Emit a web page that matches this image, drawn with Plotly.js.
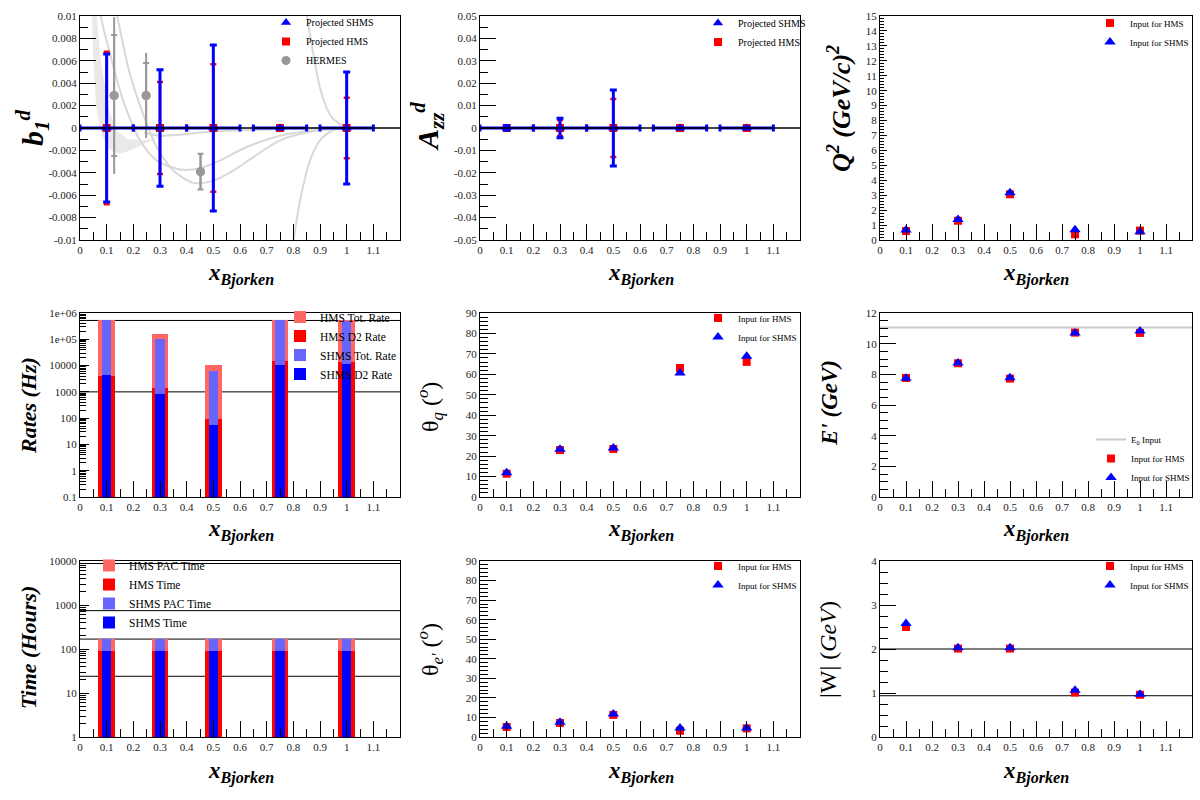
<!DOCTYPE html>
<html><head><meta charset="utf-8">
<script src="https://cdn.plot.ly/plotly-3.0.1.min.js"></script>
<style>html,body{margin:0;padding:0;background:#fff}#chart{width:1200px;height:800px}</style>
</head><body><div id="chart"></div>
<script>
// ---------------- data ----------------
const xPoints = [0.1, 0.3, 0.5, 0.75, 1.0];
const xHalfWidth = [0.1, 0.1, 0.1, 0.1, 0.1];
const projectedCentral = [0, 0, 0, 0, 0];

const b1ErrSHMS = [0.0066, 0.0052, 0.0074, 0.0001, 0.0050];
const b1ErrHMS  = [0.0068, 0.0041, 0.0057, 0.0001, 0.0027];

const hermesX = [0.128, 0.248, 0.452];
const hermesY = [0.0029, 0.0029, -0.0039];
const hermesStatErr = [0.0054, 0.0029, 0.0016];
const hermesTotErr  = [0.0070, 0.0038, 0.0016];

const bandUpperX = [0.0625, 0.075, 0.09, 0.11, 0.14, 0.18, 0.25, 0.30, 0.40];
const bandUpperY = [0.0102, 0.0065, 0.0042, 0.0015, -0.0003, -0.0010, -0.0011, -0.0008, -0.0004];
const bandLowerX = [0.045, 0.05, 0.06, 0.08, 0.11, 0.15, 0.20, 0.25, 0.30, 0.40];
const bandLowerY = [0.0102, 0.0060, 0.0020, -0.0006, -0.0019, -0.0023, -0.0019, -0.0013, -0.0008, -0.0004];
const theoryC1X = [0.1375, 0.1875, 0.2375, 0.2875, 0.35, 0.425, 0.5, 0.575, 0.65, 0.75, 0.85, 0.95, 1.05];
const theoryC1Y = [0.0102, 0.0048, 0.0012, -0.0017, -0.0038, -0.0049, -0.0047, -0.0038, -0.0026, -0.0011, -0.0004, -0.0001, 0];
const theoryC2X = [0.075, 0.1125, 0.1625, 0.225, 0.2875, 0.375, 0.45, 0.525, 0.625, 0.75, 0.875, 1.0];
const theoryC2Y = [0.0102, 0.0066, 0.0024, -0.0011, -0.0029, -0.0037, -0.0036, -0.0029, -0.0017, -0.0007, -0.0002, 0];
const theoryC3X = [0.24, 0.30, 0.37, 0.45, 0.60, 0.75, 0.90, 1.0];
const theoryC3Y = [-0.0004, -0.0007, -0.0006, -0.0004, -0.0002, -0.0001, 0, 0];
const theoryC4X = [0.85, 0.875, 0.9, 0.925, 0.95, 0.9875, 1.025, 1.1];
const theoryC4Y = [0.0102, 0.0066, 0.0036, 0.0018, 0.0008, 0.0002, 0, 0];
const theoryC5X = [0.8, 0.825, 0.8625, 0.9, 0.95, 1.0, 1.1];
const theoryC5Y = [-0.0102, -0.0065, -0.0029, -0.0011, -0.0002, 0, 0];

const azzErrSHMS = [0.0010, 0.0044, 0.0170, 0.0005, 0.0005];
const azzErrHMS  = [0.0008, 0.0036, 0.0130, 0.0004, 0.0004];

const q2HMS  = [0.60, 1.29, 3.06, 0.38, 0.63];
const q2SHMS = [0.67, 1.37, 3.17, 0.68, 0.55];

const rateHMSTot  = [5.4e5, 1.6e5, 1.05e4, 5.4e5, 5.4e5];
const rateHMSD2   = [4.0e3, 1.4e3, 95, 1.45e4, 1.4e4];
const rateSHMSTot = [5.2e5, 1.0e5, 6.3e3, 5.2e5, 4.8e5];
const rateSHMSD2  = [4.4e3, 830, 55, 1.07e4, 1.1e4];
const rateLimits  = [1000, 5.2e5];

const thetaQHMS  = [11.4, 23.0, 23.5, 63.1, 66.1];
const thetaQSHMS = [11.9, 23.3, 24.0, 60.7, 68.8];

const E0 = 11.05;
const ePrimeHMS  = [7.76, 8.72, 7.72, 10.72, 10.70];
const ePrimeSHMS = [7.74, 8.74, 7.78, 10.70, 10.83];

const timeHMSPAC  = [168, 168, 168, 168, 168];
const timeHMS     = [88, 88, 88, 88, 88];
const timeSHMSPAC = [168, 165, 168, 168, 168];
const timeSHMS    = [90, 90, 90, 90, 90];
const timeMarks   = [24, 168, 744, 8760];

const thetaEHMS  = [5.1, 7.2, 11.3, 3.2, 4.4];
const thetaESHMS = [5.5, 7.5, 11.8, 4.6, 4.6];

const wHMS  = [2.50, 2.01, 2.01, 1.01, 0.96];
const wSHMS = [2.58, 2.03, 2.03, 1.06, 0.97];
const wMarks = [2.0, 0.938];

const xTicks = [0, 0.1, 0.2, 0.3, 0.4, 0.5, 0.6, 0.7, 0.8, 0.9, 1, 1.1];
const xTickText = ['0','0.1','0.2','0.3','0.4','0.5','0.6','0.7','0.8','0.9','1','1.1'];
const b1Ticks = [-0.01,-0.008,-0.006,-0.004,-0.002,0,0.002,0.004,0.006,0.008,0.01];
const b1TickText = ['-0.01','-0.008','-0.006','-0.004','-0.002','0','0.002','0.004','0.006','0.008','0.01'];
const azzTicks = [-0.05,-0.04,-0.03,-0.02,-0.01,0,0.01,0.02,0.03,0.04,0.05];
const azzTickText = ['-0.05','-0.04','-0.03','-0.02','-0.01','0','0.01','0.02','0.03','0.04','0.05'];
const rateTicks = [0.1,1,10,100,1000,10000,1e5,1e6];
const rateTickText = ['0.1','1','10','100','1000','10000','1e+05','1e+06'];
const timeTicks = [1,10,100,1000,10000];
const timeTickText = ['1','10','100','1000','10000'];

// ---------------- style ----------------
const FONT = 'Liberation Serif, Times New Roman, serif';
const RED = '#ff0000', BLUE = '#0000ff', LRED = '#ff6666', LBLUE = '#6666ff';
const GRAY = '#999999', THEORY = '#d8d8d8', BAND = '#e9e9e9';
const XMAX = 1.2;
const HMS_W = 0.0625, SHMS_W = 0.035;

function logMinors(lo, hi) {
  const v = [];
  for (let e = lo; e < hi; e++) for (let m = 2; m <= 9; m++) v.push(m * Math.pow(10, e));
  return v;
}

const traces = [];
function hidden(t) { t.showlegend = false; t.hoverinfo = 'skip'; return t; }

// Panel 1: b1
traces.push(hidden({type:'scatter', mode:'lines', x: bandUpperX.concat(bandLowerX.slice().reverse()),
  y: bandUpperY.concat(bandLowerY.slice().reverse()), fill:'toself', fillcolor: BAND, line:{width:0}, xaxis:'x', yaxis:'y'}));
[[theoryC1X,theoryC1Y],[theoryC2X,theoryC2Y],[theoryC3X,theoryC3Y],[theoryC4X,theoryC4Y],[theoryC5X,theoryC5Y]].forEach(c => {
  traces.push(hidden({type:'scatter', mode:'lines', x:c[0], y:c[1], line:{color:THEORY, width:2, shape:'spline', smoothing:0.8}, xaxis:'x', yaxis:'y'}));
});
traces.push(hidden({type:'scatter', mode:'markers', x:hermesX, y:hermesY, marker:{color:GRAY, size:9, symbol:'circle'},
  error_y:{type:'data', array:hermesTotErr, color:GRAY, thickness:2, width:0}, xaxis:'x', yaxis:'y'}));
traces.push({type:'scatter', mode:'markers', name:'HERMES', legendrank:3, x:hermesX, y:hermesY, marker:{color:GRAY, size:9, symbol:'circle'},
  error_y:{type:'data', array:hermesStatErr, color:GRAY, thickness:2, width:3}, xaxis:'x', yaxis:'y', legend:'legend'});
traces.push({type:'scatter', mode:'markers', name:'Projected HMS', legendrank:2, x:xPoints, y:projectedCentral,
  marker:{color:RED, size:8, symbol:'square'},
  error_y:{type:'data', array:b1ErrHMS, color:RED, thickness:2.5, width:3},
  error_x:{type:'data', array:xHalfWidth, color:RED, thickness:2, width:3}, xaxis:'x', yaxis:'y', legend:'legend'});
traces.push({type:'scatter', mode:'markers', name:'Projected SHMS', legendrank:1, x:xPoints, y:projectedCentral,
  marker:{color:BLUE, size:9, symbol:'triangle-up'},
  error_y:{type:'data', array:b1ErrSHMS, color:BLUE, thickness:3, width:3.5},
  error_x:{type:'data', array:xHalfWidth, color:BLUE, thickness:3, width:3.5}, xaxis:'x', yaxis:'y', legend:'legend'});
traces.push(hidden({type:'scatter', mode:'lines', x:[0, XMAX], y:[0, 0], line:{color:'#000', width:1.3}, xaxis:'x', yaxis:'y'}));

// Panel 2: Azz
traces.push({type:'scatter', mode:'markers', name:'Projected HMS', legendrank:2, x:xPoints, y:projectedCentral,
  marker:{color:RED, size:8, symbol:'square'},
  error_y:{type:'data', array:azzErrHMS, color:RED, thickness:2.5, width:3},
  error_x:{type:'data', array:xHalfWidth, color:RED, thickness:2, width:3}, xaxis:'x2', yaxis:'y2', legend:'legend2'});
traces.push({type:'scatter', mode:'markers', name:'Projected SHMS', legendrank:1, x:xPoints, y:projectedCentral,
  marker:{color:BLUE, size:9, symbol:'triangle-up'},
  error_y:{type:'data', array:azzErrSHMS, color:BLUE, thickness:3, width:3.5},
  error_x:{type:'data', array:xHalfWidth, color:BLUE, thickness:3, width:3.5}, xaxis:'x2', yaxis:'y2', legend:'legend2'});
traces.push(hidden({type:'scatter', mode:'lines', x:[0, XMAX], y:[0, 0], line:{color:'#000', width:1.3}, xaxis:'x2', yaxis:'y2'}));

// helper for HMS/SHMS kinematics panels
function kinPair(yH, yS, ax, leg) {
  traces.push({type:'scatter', mode:'markers', name:'Input for HMS', legendrank:2, x:xPoints, y:yH,
    marker:{color:RED, size:8, symbol:'square'}, xaxis:'x'+ax, yaxis:'y'+ax, legend:leg});
  traces.push({type:'scatter', mode:'markers', name:'Input for SHMS', legendrank:3, x:xPoints, y:yS,
    marker:{color:BLUE, size:10, symbol:'triangle-up'}, xaxis:'x'+ax, yaxis:'y'+ax, legend:leg});
}
kinPair(q2HMS, q2SHMS, '3', 'legend3');

// Panel 4: rates
function bars(yv, name, color, w, ax, leg, rank) {
  traces.push({type:'bar', name:name, legendrank:rank, x:xPoints, y:yv, width:w, marker:{color:color, line:{width:0}},
    xaxis:'x'+ax, yaxis:'y'+ax, legend:leg});
}
bars(rateHMSTot, 'HMS Tot. Rate', LRED, HMS_W, '4', 'legend4', 1);
bars(rateHMSD2, 'HMS D2 Rate', RED, HMS_W, '4', 'legend4', 2);
bars(rateSHMSTot, 'SHMS Tot. Rate', LBLUE, SHMS_W, '4', 'legend4', 3);
bars(rateSHMSD2, 'SHMS D2 Rate', BLUE, SHMS_W, '4', 'legend4', 4);

// Panel 5: theta q
kinPair(thetaQHMS, thetaQSHMS, '5', 'legend5');

// Panel 6: E'
traces.push({type:'scatter', mode:'lines', name:'E<sub>0</sub> Input', legendrank:1, x:[0, XMAX], y:[E0, E0],
  line:{color:'#cccccc', width:2}, xaxis:'x6', yaxis:'y6', legend:'legend6'});
kinPair(ePrimeHMS, ePrimeSHMS, '6', 'legend6');

// Panel 7: time
bars(timeHMSPAC, 'HMS PAC Time', LRED, HMS_W, '7', 'legend7', 1);
bars(timeHMS, 'HMS Time', RED, HMS_W, '7', 'legend7', 2);
bars(timeSHMSPAC, 'SHMS PAC Time', LBLUE, SHMS_W, '7', 'legend7', 3);
bars(timeSHMS, 'SHMS Time', BLUE, SHMS_W, '7', 'legend7', 4);

// Panel 8: theta e'
kinPair(thetaEHMS, thetaESHMS, '8', 'legend8');
// Panel 9: W
kinPair(wHMS, wSHMS, '9', 'legend9');

// ---------------- layout ----------------
const W = 1200, H = 800;
const cols = [[80, 400], [480, 800], [880, 1192]];
const rows = [[16, 240], [313, 497], [561, 737]];
const tickfont = {family: FONT, size: 11, color: '#222'};

function px2x(p) { return p / W; }
function px2y(p) { return 1 - p / H; }

function xAxis(c, r, anchor) {
  return {domain:[px2x(cols[c][0]), px2x(cols[c][1])], anchor: anchor, range:[0, XMAX],
    tickmode:'array', tickvals:xTicks, ticktext:xTickText, ticks:'inside', ticklen:16, tickwidth:1, tickcolor:'#000',
    minor:{tickmode:'linear', tick0:0, dtick:0.05, ticks:'inside', ticklen:8, tickwidth:1, tickcolor:'#000'},
    showline:true, mirror:true, linecolor:'#000', linewidth:1, showgrid:false, zeroline:false,
    tickfont: tickfont, fixedrange:true};
}
function yAxis(c, r, anchor, extra) {
  const base = {domain:[px2y(rows[r][1]), px2y(rows[r][0])], anchor: anchor,
    ticks:'inside', ticklen:16, tickwidth:1, tickcolor:'#000',
    showline:true, mirror:true, linecolor:'#000', linewidth:1, showgrid:false, zeroline:false,
    tickfont: tickfont, fixedrange:true};
  return Object.assign(base, extra);
}
function minorLin(t0, dt, len) { return {tickmode:'linear', tick0:t0, dtick:dt, ticks:'inside', ticklen:len, tickwidth:1, tickcolor:'#000'}; }

const layout = {
  width: W, height: H, margin:{l:0, r:0, t:0, b:0}, paper_bgcolor:'#fff', plot_bgcolor:'rgba(0,0,0,0)',
  font:{family: FONT, color:'#000'}, barmode:'overlay', bargap:0, showlegend:true,
  xaxis: xAxis(0, 0, 'y'), xaxis2: xAxis(1, 0, 'y2'), xaxis3: xAxis(2, 0, 'y3'),
  xaxis4: xAxis(0, 1, 'y4'), xaxis5: xAxis(1, 1, 'y5'), xaxis6: xAxis(2, 1, 'y6'),
  xaxis7: xAxis(0, 2, 'y7'), xaxis8: xAxis(1, 2, 'y8'), xaxis9: xAxis(2, 2, 'y9'),
  yaxis: yAxis(0, 0, 'x', {range:[-0.01, 0.01], tickmode:'array', tickvals:b1Ticks, ticktext:b1TickText, minor:minorLin(-0.01, 0.001, 8)}),
  yaxis2: yAxis(1, 0, 'x2', {range:[-0.05, 0.05], tickmode:'array', tickvals:azzTicks, ticktext:azzTickText, minor:minorLin(-0.05, 0.005, 8)}),
  yaxis3: yAxis(2, 0, 'x3', {range:[0, 15], tickmode:'linear', tick0:0, dtick:1, ticklen:7, minor:minorLin(0, 0.2, 4)}),
  yaxis4: yAxis(0, 1, 'x4', {type:'log', range:[-1, 6], tickmode:'array', tickvals:rateTicks, ticktext:rateTickText, ticklen:9,
    minor:{tickmode:'array', tickvals:logMinors(-1, 6), ticks:'inside', ticklen:6, tickwidth:1, tickcolor:'#000'}}),
  yaxis5: yAxis(1, 1, 'x5', {range:[0, 90], tickmode:'linear', tick0:0, dtick:10, minor:minorLin(0, 2, 8)}),
  yaxis6: yAxis(2, 1, 'x6', {range:[0, 12], tickmode:'linear', tick0:0, dtick:2, minor:minorLin(0, 0.5, 8)}),
  yaxis7: yAxis(0, 2, 'x7', {type:'log', range:[0, 4], tickmode:'array', tickvals:timeTicks, ticktext:timeTickText, ticklen:9,
    minor:{tickmode:'array', tickvals:logMinors(0, 4), ticks:'inside', ticklen:6, tickwidth:1, tickcolor:'#000'}}),
  yaxis8: yAxis(1, 2, 'x8', {range:[0, 90], tickmode:'linear', tick0:0, dtick:10, minor:minorLin(0, 2, 8)}),
  yaxis9: yAxis(2, 2, 'x9', {range:[0, 4], tickmode:'linear', tick0:0, dtick:1, minor:minorLin(0, 0.25, 8)}),
  shapes: [], annotations: []
};

// reference lines (below bars / markers); shapes take data values
rateLimits.forEach(v => layout.shapes.push({type:'line', layer:'below', xref:'x4 domain', x0:0, x1:1, yref:'y4', y0:v, y1:v, line:{color:'#000', width:1}}));
timeMarks.forEach(v => layout.shapes.push({type:'line', layer:'below', xref:'x7 domain', x0:0, x1:1, yref:'y7', y0:v, y1:v, line:{color:'#000', width:1}}));
wMarks.forEach(v => layout.shapes.push({type:'line', layer:'below', xref:'x9 domain', x0:0, x1:1, yref:'y9', y0:v, y1:v, line:{color:'#000', width:1}}));

// legends
function legendAt(lx, ty, size) {
  return {x: px2x(lx), y: px2y(ty), xanchor:'left', yanchor:'top', bgcolor:'rgba(0,0,0,0)', borderwidth:0,
    font:{family: FONT, size: size, color:'#000'}, itemwidth:30, tracegroupgap:0, traceorder:'normal'};
}
layout.legend  = legendAt(266, 8, 10);
layout.legend2 = legendAt(698, 8.5, 10);
layout.legend3 = legendAt(1090, 8.5, 9);
layout.legend4 = legendAt(280, 302.5, 11.5);
layout.legend5 = legendAt(698, 303.5, 9);
layout.legend6 = legendAt(1091, 425, 9);
layout.legend7 = legendAt(89, 551, 11.5);
layout.legend8 = legendAt(698, 551.5, 9);
layout.legend9 = legendAt(1090, 551.5, 9);

// axis titles
function ann(text, x, y, size, angle) {
  layout.annotations.push({text: text, xref:'paper', yref:'paper', x: px2x(x), y: px2y(y), xanchor:'center', yanchor:'middle',
    showarrow:false, textangle: angle, font:{family: FONT, size: size, color:'#000'}});
}
const xTitle = '<b><i>x<sub>Bjorken</sub></i></b>';
const colCenters = [241, 641, 1036];
const rowTitleY = [274, 530, 772];
rowTitleY.forEach(ry => colCenters.forEach(cx => ann(xTitle, cx, ry, 23, 0)));
ann('<b><i>b<sub>1</sub><sup>d</sup></i></b>', 32, 128, 30, -90);
ann('<b><i>A<sub>zz</sub><sup>d</sup></i></b>', 428, 127, 30, -90);
ann('<b><i>Q<sup>2</sup> (GeV/c)<sup>2</sup></i></b>', 840, 109, 26, -90);
ann('<b><i>Rates (Hz)</i></b>', 29, 406, 22, -90);
ann('θ<sub><i>q</i></sub> (<sup><i>o</i></sup>)', 430, 407, 24, -90);
ann("<b><i>E' (GeV)</i></b>", 829, 403, 23, -90);
ann('<b><i>Time (Hours)</i></b>', 28, 648, 22, -90);
ann("θ<sub><i>e'</i></sub> (<sup><i>o</i></sup>)", 430, 650, 24, -90);
ann('|W| (<i>GeV</i>)', 828, 649, 24, -90);

Plotly.newPlot('chart', traces, layout, {staticPlot:true, displayModeBar:false});
</script></body></html>
